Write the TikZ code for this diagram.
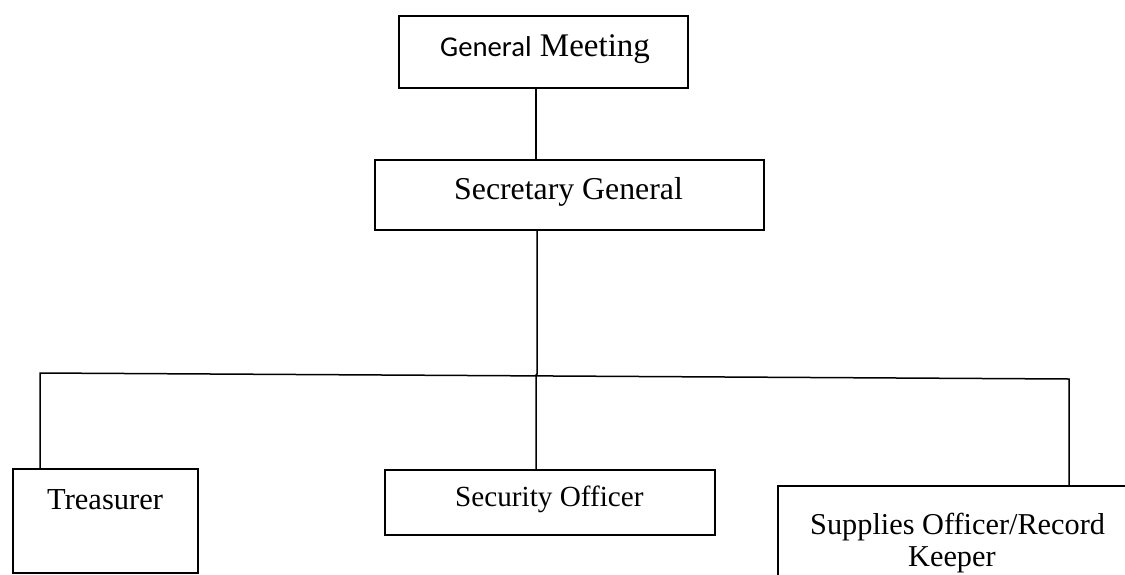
\documentclass[tikz,border=0pt]{standalone}
\usepackage{fontspec}
\setmainfont{Liberation Serif}
\newfontfamily\calibrifont{Carlito}
\begin{document}
\begin{tikzpicture}[x=1pt,y=-1pt,
  box/.style={draw, line width=1.5pt, rectangle, inner sep=0pt, anchor=north west},
  link/.style={line width=1.5pt},
  lbl/.style={anchor=base west, inner sep=0pt}]
\useasboundingbox (0,0) rectangle (1125,574);
\clip (0,0) rectangle (1125,574);
\fill[white] (0,0) rectangle (1125,574);
% boxes
\node[box, minimum width=289pt, minimum height=72pt] (gm) at (398,15) {};
\node[box, minimum width=389pt, minimum height=70pt] (sg) at (374,159) {};
\node[box, minimum width=185pt, minimum height=104pt] (tr) at (12,468) {};
\node[box, minimum width=330pt, minimum height=65pt] (so) at (384,469) {};
\node[box, minimum width=380pt, minimum height=140pt] (su) at (777,485) {};
% texts
\node[lbl] (gmt) at (440,56) {{\calibrifont\fontsize{28.7}{30}\selectfont General}{\fontsize{33}{35}\selectfont\ Meeting}};
\node[lbl] (sgt) at (454,199) {\fontsize{31.8}{33}\selectfont Secretary General};
\node[lbl] (trt) at (47,509) {\fontsize{30.5}{32}\selectfont Treasurer};
\node[lbl] (sot) at (455,506) {\fontsize{29.2}{31}\selectfont Security Officer};
\node[lbl] (sut1) at (810,534) {\fontsize{30.3}{32}\selectfont Supplies Officer/Record};
\node[lbl] (sut2) at (908,566) {\fontsize{30.3}{32}\selectfont Keeper};
% junction coordinates
\coordinate (bl) at (40,373);
\coordinate (br) at (1069,379);
\coordinate (bj) at (537,374);
\coordinate (bm) at (536,375);
% connectors
\draw[link] ([xshift=138pt]gm.south west) -- ([xshift=162pt]sg.north west);
\draw[link] ([xshift=163pt]sg.south west) -- (bj) -- (bm) -- ([xshift=152pt]so.north west);
\draw[link] ([xshift=28pt]tr.north west) -- (bl) -- (br) -- ([xshift=292pt]su.north west);
\end{tikzpicture}
\end{document}
